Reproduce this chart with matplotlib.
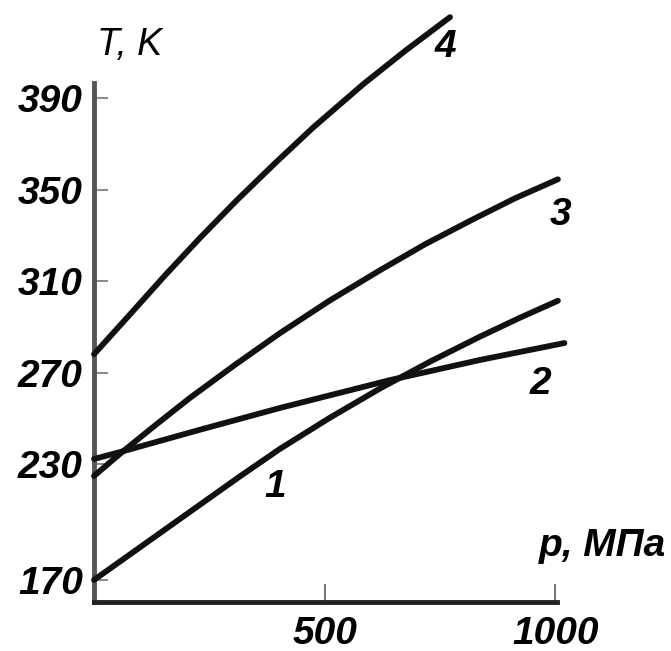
import numpy as np
import matplotlib
matplotlib.use("Agg")
import matplotlib.pyplot as plt

# curves: pressure p (MPa) -> temperature T (K)
p1 = [0, 187, 317, 403, 512, 620, 729, 837, 924, 1006]
t1 = [170, 201.7, 223.7, 236.6, 250.3, 263.0, 274.8, 285.7, 294.0, 301.4]

p2 = [0, 56, 230, 403, 642, 837, 1020]
t2 = [232.2, 235.2, 245.0, 254.5, 266.7, 275.5, 282.9]

p3 = [0, 56, 132, 208, 306, 403, 512, 620, 718, 818, 913, 1006]
t3 = [223.8, 234.4, 246.8, 258.9, 273.4, 287.2, 301.6, 314.7, 326.1, 336.6, 346.2, 354.5]

p4 = [0, 78, 154, 230, 310, 393, 475, 584, 675, 772]
t4 = [278, 295.4, 312.5, 328.9, 345.4, 361.6, 377.1, 396.1, 410.7, 425.4]

curve_names = ["1", "2", "3", "4"]
label_p = [393, 967, 1011, 762]
label_t = [218, 265, 338.9, 412.3]

x_ticks = [500, 1000]
y_ticks = [170, 230, 270, 310, 350, 390]

# the original axis is squeezed below 230 K
K = 0.845


def fwd(t):
    t = np.asarray(t, dtype=float)
    return np.where(t >= 230, t, 230 - (230 - t) * K)


def inv(s):
    s = np.asarray(s, dtype=float)
    return np.where(s >= 230, s, 230 - (230 - s) / K)


FONT = dict(family="Liberation Sans", weight="bold", style="italic", size=28)

fig = plt.figure(figsize=(6.71, 6.51), dpi=100)
fig.patch.set_facecolor("white")
ax = fig.add_axes([94 / 671, 1 - 602 / 651, (557 - 94) / 671, (602 - 83) / 651])
ax.set_yscale("function", functions=(fwd, inv))

for pp, tt in [(p1, t1), (p2, t2), (p3, t3), (p4, t4)]:
    ax.plot(pp, tt, color="#111111", lw=4.2, solid_capstyle="round",
            solid_joinstyle="round", clip_on=False, zorder=3)

for name, lp, lt in zip(curve_names, label_p, label_t):
    ax.text(lp, lt, name, ha="center", va="center", clip_on=False, **FONT)

ax.set_xlim(0, 1004)
ax.set_ylim(158.6, 396.6)
ax.set_xticks(x_ticks)
ax.set_yticks(y_ticks)
ax.set_xticklabels([str(v) for v in x_ticks], fontdict=FONT)
ax.set_yticklabels([str(v) for v in y_ticks], fontdict=FONT)
ax.minorticks_off()

for side in ["top", "right"]:
    ax.spines[side].set_visible(False)
ax.spines["left"].set_color("#555555")
ax.spines["left"].set_linewidth(3.5)
ax.spines["bottom"].set_color("#222222")
ax.spines["bottom"].set_linewidth(3.5)

ax.tick_params(axis="y", direction="in", length=10, width=1.2, color="#777777", pad=8)
ax.tick_params(axis="x", direction="in", length=13, width=1.5, color="#777777", pad=10)

fig.text(97 / 671, 1 - 45 / 651, "T, K", ha="left", va="center",
         family="Liberation Sans", style="italic", size=27)
fig.text(666 / 671, 1 - 556 / 651, "p, МПа", ha="right", va="baseline", **FONT)

fig.savefig("out.png", dpi=100, facecolor="white")
